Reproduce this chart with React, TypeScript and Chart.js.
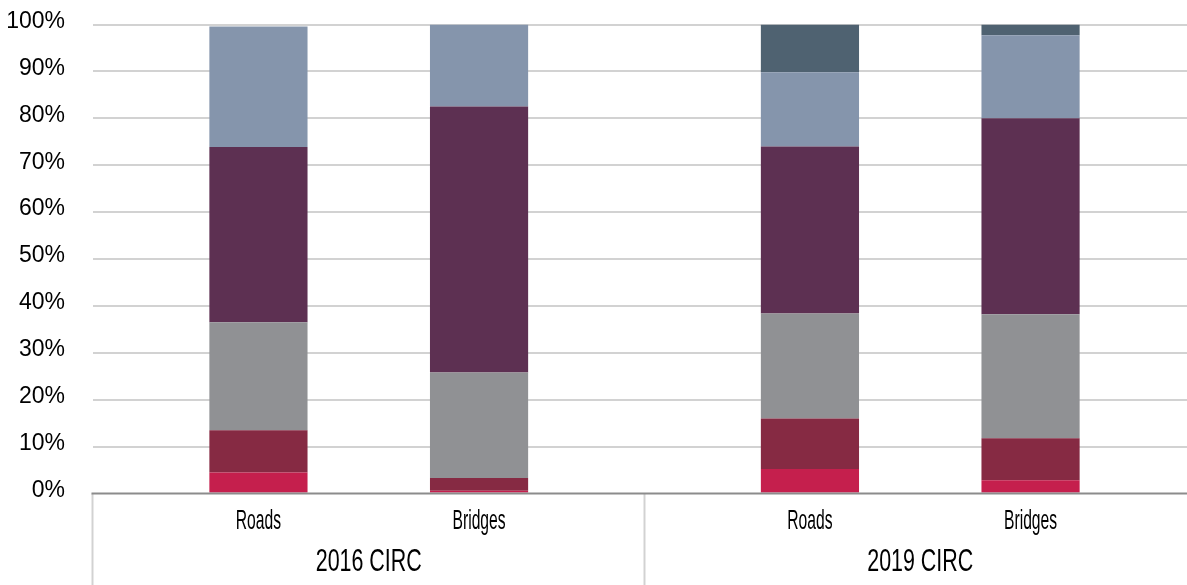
import { useEffect, useRef } from 'react';
import { Chart, registerables } from 'chart.js';

Chart.register(...registerables);

// ---- data ----
const groups = ['2016 CIRC', '2019 CIRC'];
const categories = ['Roads', 'Bridges'];
// values per bar, in order: 2016 Roads, 2016 Bridges, 2019 Roads, 2019 Bridges (percent)
const segment1 = [4.5, 0.6, 5.2, 2.8];
const segment2 = [9.0, 2.7, 10.8, 9.0];
const segment3 = [23.0, 22.5, 22.4, 26.4];
const segment4 = [37.4, 56.7, 35.6, 41.8];
const segment5 = [25.7, 17.5, 15.8, 17.7];
const segment6 = [0, 0, 10.2, 2.3];
const yTickValues = [0, 10, 20, 30, 40, 50, 60, 70, 80, 90, 100];

// ---- styles ----
const seriesList = [segment1, segment2, segment3, segment4, segment5, segment6];
const seriesColors = ['#C51F4D', '#862A43', '#909194', '#5D3052', '#8595AC', '#4F6271'];

// build slot table: each group = [blank, cat0, blank, cat1, blank]
const slotLabels: string[] = [];
const slotBar: number[] = [];
{
  let b = 0;
  groups.forEach(() => {
    slotLabels.push('');
    slotBar.push(-1);
    categories.forEach((c) => {
      slotLabels.push(c);
      slotBar.push(b++);
      slotLabels.push('');
      slotBar.push(-1);
    });
  });
}
const slotsPerGroup = categories.length * 2 + 1;

function drawCondensed(ctx: CanvasRenderingContext2D, text: string, x: number, y: number, font: string, sx: number) {
  ctx.save();
  ctx.translate(x, y);
  ctx.scale(sx, 1);
  ctx.font = font;
  ctx.textAlign = 'center';
  ctx.textBaseline = 'alphabetic';
  ctx.fillText(text, 0, 0);
  ctx.restore();
}

const axisDecor = {
  id: 'axisDecor',
  afterDatasetsDraw(chart: any) {
    const { ctx, chartArea } = chart;
    const xs = chart.scales.x;
    const slotW = (chartArea.right - chartArea.left) / slotLabels.length;
    ctx.save();
    // category separators
    ctx.strokeStyle = '#d2d2d2';
    ctx.lineWidth = 2;
    for (let g = 0; g <= groups.length; g++) {
      const px = Math.round(chartArea.left + g * slotsPerGroup * slotW) - 0.5;
      ctx.beginPath();
      ctx.moveTo(px, chartArea.bottom);
      ctx.lineTo(px, chart.height);
      ctx.stroke();
    }
    // baseline axis
    ctx.strokeStyle = '#8c8c8c';
    ctx.lineWidth = 2;
    ctx.beginPath();
    ctx.moveTo(chartArea.left - 1.5, chartArea.bottom);
    ctx.lineTo(chartArea.right, chartArea.bottom);
    ctx.stroke();
    // labels
    ctx.fillStyle = '#000';
    slotLabels.forEach((lab, i) => {
      if (!lab) return;
      drawCondensed(ctx, lab, xs.getPixelForValue(i), chartArea.bottom + 35.5, '28px "Liberation Sans", Arial, sans-serif', 0.56);
    });
    groups.forEach((g, gi) => {
      const cx = chartArea.left + (gi + 0.5) * slotsPerGroup * slotW;
      drawCondensed(ctx, g, cx, chartArea.bottom + 77.5, '32px "Liberation Sans", Arial, sans-serif', 0.67);
    });
    ctx.restore();
  },
};

export default function App() {
  const ref = useRef<HTMLCanvasElement>(null);
  useEffect(() => {
    if (!ref.current) return;
    const datasets = seriesList.map((s, si) => ({
      label: 'Segment ' + (si + 1),
      data: slotBar.map((b) => (b < 0 ? null : s[b])),
      backgroundColor: seriesColors[si],
      borderWidth: 0,
      barPercentage: 0.89,
      categoryPercentage: 1,
    }));
    const chart = new Chart(ref.current, {
      type: 'bar',
      data: { labels: slotLabels, datasets },
      plugins: [axisDecor],
      options: {
        responsive: false,
        animation: false,
        layout: { padding: { top: 24.5, left: 0, right: 0, bottom: 0 }, autoPadding: false },
        plugins: { legend: { display: false }, tooltip: { enabled: false } },
        scales: {
          x: {
            stacked: true,
            grid: { display: false },
            border: { display: false },
            ticks: { display: false },
            afterFit: (s: any) => {
              s.height = 91.5;
              s.paddingLeft = 0;
              s.paddingRight = 0;
              s.paddingTop = 0;
              s.paddingBottom = 0;
            },
          },
          y: {
            stacked: true,
            min: 0,
            max: 100,
            afterBuildTicks: (s: any) => { s.ticks = yTickValues.map((v) => ({ value: v })); },
            grid: {
              drawTicks: false,
              lineWidth: 2,
              color: (c: any) => (c.tick && c.tick.value === 0 ? 'rgba(0,0,0,0)' : '#d2d2d2'),
            },
            border: { display: false },
            ticks: {
              padding: 28,
              labelOffset: -3,
              color: '#000',
              font: { family: '"Liberation Sans", Arial, sans-serif', size: 23 },
              callback: (v: any) => v + '%',
            },
            afterFit: (s: any) => {
              s.width = 93;
              s.paddingLeft = 0;
              s.paddingRight = 0;
              s.paddingTop = 0;
              s.paddingBottom = 0;
            },
          },
        },
      },
    });
    return () => chart.destroy();
  }, []);
  return (
    <div style={{ position: 'fixed', left: 0, top: 0, width: 1187, height: 585, overflow: 'hidden', background: '#fff' }}>
      <canvas ref={ref} width={1196} height={585} style={{ display: 'block' }} />
    </div>
  );
}
